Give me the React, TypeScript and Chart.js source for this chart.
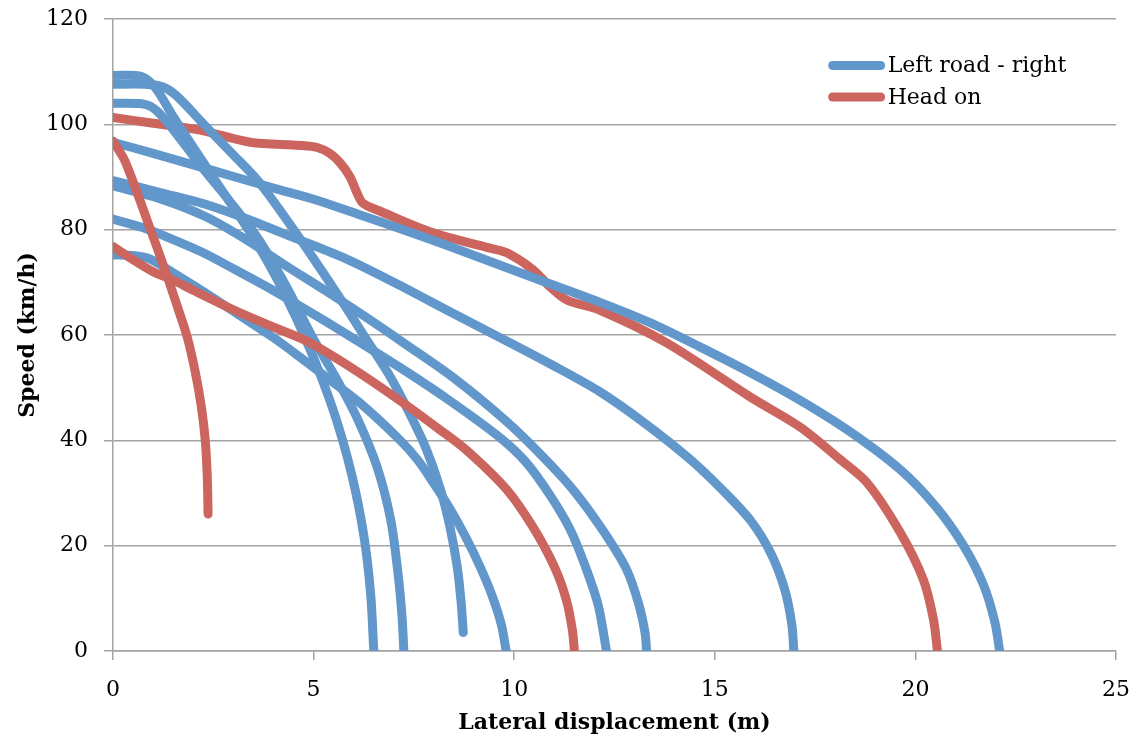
import React, { useEffect, useRef } from 'react';
import { Chart, registerables } from 'chart.js';

Chart.register(...registerables);

type Pt = [number, number];

const SERIES_NAMES = ['Left road - right', 'Head on'];
const X_TICK_STEP = 5;
const Y_TICK_STEP = 20;
const X_RANGE = [0, 25];
const Y_RANGE = [0, 120];

// "Left road - right" runs (lateral displacement m, speed km/h)
const left109: Pt[] = [[0, 109.3], [0.7, 109.1], [1.05, 107], [1.5, 101.5], [2.1, 94.5], [2.8, 86.5], [3.5, 78.5], [4.2, 69], [4.9, 57.5], [5.5, 45.5], [5.95, 33.5], [6.25, 22], [6.42, 11], [6.5, 0]];
const left104: Pt[] = [[0, 104], [0.8, 103.8], [1.1, 102.5], [1.5, 99], [2.2, 92], [2.9, 85.5], [3.6, 78.5], [4.3, 69.5], [5.0, 59.2], [5.6, 51.3], [6.1, 44], [6.58, 35], [6.92, 25], [7.1, 15], [7.2, 7], [7.25, 0]];
const left108: Pt[] = [[0, 107.6], [0.8, 107.6], [1.25, 107.1], [1.6, 105.3], [2.3, 99.7], [3.0, 94.2], [3.6, 89.4], [4.3, 82.2], [5.0, 74.5], [5.7, 66.5], [6.33, 59], [6.9, 52.2], [7.4, 45], [7.8, 38.5], [8.15, 31], [8.4, 23.5], [8.58, 16], [8.68, 9], [8.73, 3.5]];
const left97: Pt[] = [[0, 96.6], [1, 94.5], [2, 92.3], [3, 90.1], [4, 87.9], [5.08, 85.6], [6.2, 82.7], [7.3, 79.8], [8.4, 76.8], [9.6, 73.4], [10.9, 69.7], [12.14, 66.2], [13.4, 62.3], [14.64, 57.7], [15.9, 52.8], [17.13, 47.6], [18.4, 41.5], [19.63, 34.4], [20.5, 27.5], [21.2, 20], [21.7, 12.5], [21.98, 5.5], [22.1, 0]];
const left89: Pt[] = [[0, 89.3], [1.2, 87], [2.4, 84.6], [3.42, 81.8], [4.6, 78.2], [5.8, 74.5], [7, 70], [8.4, 64.4], [9.65, 59.5], [10.9, 54.5], [12.14, 49.2], [13.3, 43], [14.4, 36.3], [15.2, 30.5], [15.89, 24.8], [16.4, 18.5], [16.75, 11.5], [16.92, 5], [16.97, 0]];
const left88: Pt[] = [[0, 88.3], [1.2, 85.8], [2.3, 82.5], [3.3, 78.2], [4.3, 73.2], [5.3, 68.4], [6.3, 63.4], [7.3, 58.2], [8.5, 51.8], [9.82, 43.5], [10.7, 37], [11.47, 30.6], [12.2, 23], [12.8, 15.5], [13.1, 9], [13.26, 3.5], [13.3, 0]];
const left82: Pt[] = [[0, 82], [0.7, 80.5], [1.35, 78.6], [2.2, 75.8], [3, 72.6], [3.8, 69.3], [4.66, 65.5], [5.9, 59.8], [7.16, 53.8], [8.4, 47.5], [9.65, 40.5], [10.3, 35.8], [10.9, 29.5], [11.4, 23], [11.8, 15.5], [12.1, 8.5], [12.3, 0]];
const left75: Pt[] = [[0, 75.2], [0.5, 75.1], [0.9, 74.5], [1.5, 71.8], [2.3, 68], [3.2, 63.5], [4.0, 59.5], [4.66, 55.8], [5.4, 51.5], [6.2, 46.8], [7.16, 40], [7.6, 36.2], [7.98, 32], [8.4, 27], [8.8, 21.5], [9.15, 16], [9.45, 10.5], [9.68, 5], [9.8, 0]];

// "Head on" runs
const head101: Pt[] = [[0, 101.3], [1, 100.2], [2.17, 98.9], [3.42, 96.6], [4.66, 96], [5.09, 95.6], [5.4, 94.5], [5.66, 92.7], [5.91, 90], [6.08, 87], [6.23, 85], [6.66, 83.5], [7.98, 79.4], [9.4, 76.5], [9.82, 75.6], [10.47, 72.4], [10.9, 69.1], [11.32, 66.6], [12.14, 64.7], [13.8, 58.5], [15.89, 48.2], [17.13, 42.5], [18.1, 36.5], [18.8, 31.9], [19.63, 22.4], [20.2, 13.5], [20.45, 6], [20.55, 0]];
const head97: Pt[] = [[0, 96.8], [0.3, 93], [0.85, 81.8], [1.3, 72.3], [1.6, 65.5], [1.85, 59.6], [2.05, 53], [2.2, 46.5], [2.3, 40], [2.35, 33], [2.37, 26]];
const head77: Pt[] = [[0, 76.8], [0.5, 74.3], [1, 72], [1.5, 70.4], [2, 68.5], [3, 64.8], [4, 61.5], [4.84, 58.8], [6, 53.5], [7.16, 47.5], [8.15, 42], [8.83, 38], [9.82, 30.6], [10.47, 23.5], [11, 16], [11.3, 9.7], [11.45, 4], [11.5, 0]];

const LEFT_RUNS = [left109, left104, left108, left97, left89, left88, left82, left75];
const HEAD_TOP_RUNS = [head97, head77];
const HEAD_BOTTOM_RUNS = [head101];

const BLUE = '#6197CB';
const RED = '#CB655E';
const GRID = '#a3a3a3';
const FONT = "'DejaVu Serif', serif";

const legendPlugin = {
  id: 'insideLegend',
  afterDraw(chart: any) {
    const { ctx, chartArea } = chart;
    const w = chartArea.right - chartArea.left;
    const h = chartArea.bottom - chartArea.top;
    const x0 = chartArea.left + w * 0.7175;
    const x1 = x0 + 48;
    const items = [
      { label: SERIES_NAMES[0], color: BLUE, y: chartArea.top + h * 0.0735 },
      { label: SERIES_NAMES[1], color: RED, y: chartArea.top + h * 0.1235 },
    ];
    ctx.save();
    items.forEach((it) => {
      ctx.beginPath();
      ctx.lineCap = 'round';
      ctx.lineWidth = 9;
      ctx.strokeStyle = it.color;
      ctx.moveTo(x0, it.y);
      ctx.lineTo(x1, it.y);
      ctx.stroke();
      ctx.fillStyle = '#000';
      ctx.font = `22px ${FONT}`;
      ctx.textBaseline = 'middle';
      ctx.textAlign = 'left';
      ctx.fillText(it.label, x1 + 7, it.y + 1);
    });
    ctx.restore();
  },
};

function toDataset(run: Pt[], color: string, label: string, order: number) {
  return {
    label,
    data: run.map(([x, y]) => ({ x, y })),
    borderColor: color,
    backgroundColor: color,
    borderWidth: 9,
    borderCapStyle: 'round' as const,
    borderJoinStyle: 'round' as const,
    pointRadius: 0,
    tension: 0.3,
    fill: false,
    clip: 0,
    order,
  };
}

export default function App() {
  const ref = useRef<HTMLCanvasElement | null>(null);

  useEffect(() => {
    if (!ref.current) return;
    const datasets = [
      ...HEAD_TOP_RUNS.map((r) => toDataset(r, RED, SERIES_NAMES[1], 0)),
      ...LEFT_RUNS.map((r) => toDataset(r, BLUE, SERIES_NAMES[0], 1)),
      ...HEAD_BOTTOM_RUNS.map((r) => toDataset(r, RED, SERIES_NAMES[1], 2)),
    ];
    const chart = new Chart(ref.current, {
      type: 'line',
      data: { datasets },
      options: {
        animation: false,
        responsive: false,
        layout: { padding: { top: 19, right: 20, left: 0, bottom: 0 } },
        plugins: { legend: { display: false }, tooltip: { enabled: false } },
        scales: {
          x: {
            type: 'linear',
            min: X_RANGE[0],
            max: X_RANGE[1],
            ticks: { stepSize: X_TICK_STEP, color: '#000', font: { family: FONT, size: 22 }, padding: 17 },
            grid: { drawOnChartArea: false, drawTicks: true, tickLength: 9, color: GRID, lineWidth: 1.5 },
            border: { color: GRID, width: 1.5 },
            title: { display: true, text: 'Lateral displacement (m)', color: '#000', font: { family: FONT, size: 22, weight: 'bold' }, padding: 6 },
            afterFit: (s: any) => { s.height = 91; s.paddingLeft = 0; s.paddingRight = 0; },
          },
          y: {
            type: 'linear',
            min: Y_RANGE[0],
            max: Y_RANGE[1],
            ticks: { stepSize: Y_TICK_STEP, color: '#000', font: { family: FONT, size: 22 }, padding: 16 },
            grid: { drawOnChartArea: true, drawTicks: true, tickLength: 9, color: GRID, lineWidth: 1.5 },
            border: { color: GRID, width: 1.5 },
            title: { display: true, text: 'Speed (km/h)', color: '#000', font: { family: FONT, size: 22, weight: 'bold' }, padding: 15 },
            afterFit: (s: any) => { s.width = 113; s.paddingTop = 0; s.paddingBottom = 0; },
          },
        },
      } as any,
      plugins: [legendPlugin],
    });
    return () => chart.destroy();
  }, []);

  return (
    <div style={{ position: 'absolute', left: 0, top: 0, width: 1136, height: 742, background: '#fff' }}>
      <canvas ref={ref} width={1136} height={742} />
    </div>
  );
}
